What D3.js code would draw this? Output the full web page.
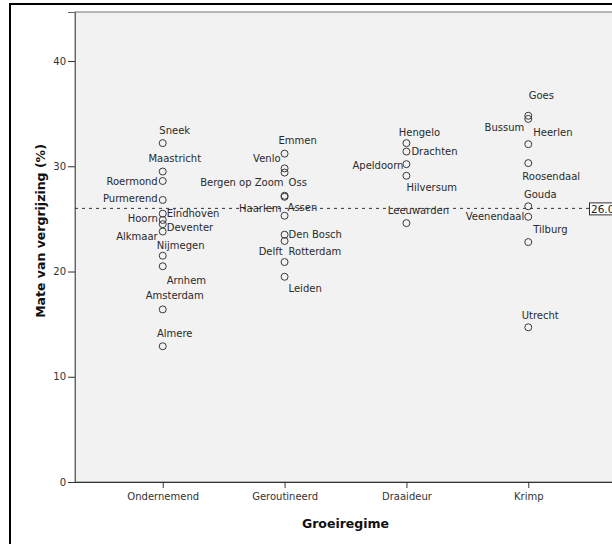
<!DOCTYPE html>
<html>
<head>
<meta charset="utf-8">
<script src="https://cdn.jsdelivr.net/npm/d3@7"></script>
<style>
  body { margin: 0; background: #fff; }
  text { font-family: 'DejaVu Sans', sans-serif; }
</style>
</head>
<body>
<div class="container"></div>
<script>
const categories = ['Ondernemend', 'Geroutineerd', 'Draaideur', 'Krimp'];

const ondernemendCities = ['Sneek', 'Maastricht', 'Roermond', 'Purmerend', 'Eindhoven', 'Hoorn', 'Deventer', 'Alkmaar', 'Nijmegen', 'Arnhem', 'Amsterdam', 'Almere'];
const ondernemendValues = [32.2, 29.5, 28.6, 26.8, 25.5, 24.9, 24.5, 23.8, 21.5, 20.5, 16.4, 12.9];

const geroutineerdCities = ['Emmen', 'Venlo', 'Bergen op Zoom', 'Oss', 'Haarlem', 'Assen', 'Den Bosch', 'Delft', 'Rotterdam', 'Leiden'];
const geroutineerdValues = [31.2, 29.8, 29.4, 27.2, 27.1, 25.3, 23.5, 22.9, 20.9, 19.5];

const draaideurCities = ['Hengelo', 'Drachten', 'Apeldoorn', 'Hilversum', 'Leeuwarden'];
const draaideurValues = [32.2, 31.4, 30.2, 29.1, 24.6];

const krimpCities = ['Goes', 'Bussum', 'Heerlen', 'Roosendaal', 'Gouda', 'Veenendaal', 'Tilburg', 'Utrecht'];
const krimpValues = [34.8, 34.5, 32.1, 30.3, 26.2, 25.2, 22.8, 14.7];

const yTicks = [0, 10, 20, 30, 40];
const meanValue = 26.0;

// label placement: [anchor, dx, dy] relative to the point
const labelPlacement = {
  Sneek: ['middle', 12, -13],
  Maastricht: ['middle', 12, -13],
  Roermond: ['end', -5, 0],
  Purmerend: ['end', -5, -1],
  Eindhoven: ['start', 4, 0],
  Hoorn: ['end', -5, -1],
  Deventer: ['start', 4, 3],
  Alkmaar: ['end', -5, 5],
  Nijmegen: ['start', -6, -10],
  Arnhem: ['start', 4, 14],
  Amsterdam: ['middle', 12, -14],
  Almere: ['middle', 12, -13],
  Emmen: ['middle', 13, -13],
  Venlo: ['end', -4, -10],
  'Bergen op Zoom': ['end', -1, 10],
  Oss: ['start', 4, -13],
  Haarlem: ['end', -3, 12],
  Assen: ['start', 3, -8],
  'Den Bosch': ['start', 4, 0],
  Delft: ['end', -2, 10],
  Rotterdam: ['start', 4, -11],
  Leiden: ['start', 4, 12],
  Hengelo: ['middle', 13, -11],
  Drachten: ['start', 5, 0],
  Apeldoorn: ['end', -3, 1],
  Hilversum: ['start', 0, 12],
  Leeuwarden: ['middle', 12, -13],
  Goes: ['middle', 13, -20],
  Bussum: ['end', -4, 9],
  Heerlen: ['start', 5, -12],
  Roosendaal: ['start', -6, 13],
  Gouda: ['middle', 12, -12],
  Veenendaal: ['end', -4, 0],
  Tilburg: ['start', 5, -13],
  Utrecht: ['middle', 12, -12]
};

const width = 612;
const height = 544;
const plot = { left: 75, top: 12, right: 616, bottom: 482 };

const data = [
  ...ondernemendCities.map((c, i) => ({ city: c, group: categories[0], value: ondernemendValues[i] })),
  ...geroutineerdCities.map((c, i) => ({ city: c, group: categories[1], value: geroutineerdValues[i] })),
  ...draaideurCities.map((c, i) => ({ city: c, group: categories[2], value: draaideurValues[i] })),
  ...krimpCities.map((c, i) => ({ city: c, group: categories[3], value: krimpValues[i] }))
];

const svg = d3
  .select('.container')
  .append('svg')
  .attr('width', width)
  .attr('height', height);

// outer frame
svg
  .append('rect')
  .attr('x', 10)
  .attr('y', 4)
  .attr('width', 700)
  .attr('height', 700)
  .attr('fill', '#fff')
  .attr('stroke', '#000')
  .attr('stroke-width', 2);

const x = d3
  .scalePoint()
  .domain(categories)
  .range([plot.left, plot.right])
  .padding(0.72);

const y = d3
  .scaleLinear()
  .domain([0, 44.66])
  .range([plot.bottom, plot.top]);

// plot background
svg
  .append('rect')
  .attr('x', plot.left)
  .attr('y', plot.top)
  .attr('width', plot.right - plot.left + 20)
  .attr('height', plot.bottom - plot.top)
  .attr('fill', '#f2f2f2')
  .attr('stroke', '#8a8a8a')
  .attr('stroke-width', 1.2);

// y axis
const yAxis = svg
  .append('g')
  .attr('class', 'y-axis')
  .attr('transform', `translate(${plot.left}, 0)`)
  .call(d3.axisLeft(y).tickValues(yTicks).tickSize(7).tickPadding(2).tickFormat(d3.format('d')));

yAxis.select('.domain').attr('stroke', '#666');
yAxis.selectAll('.tick line').attr('stroke', '#333');
yAxis
  .selectAll('.tick text')
  .attr('fill', '#333')
  .style('font-size', '10px')
  .style('font-family', 'DejaVu Sans');

// x axis
const xAxis = svg
  .append('g')
  .attr('class', 'x-axis')
  .attr('transform', `translate(0, ${plot.bottom})`)
  .call(d3.axisBottom(x).tickSize(6).tickPadding(5).tickSizeOuter(0));

xAxis.select('.domain').attr('stroke', '#333').attr('d', `M${plot.left},0.5H${width + 10}`);
xAxis.selectAll('.tick line').attr('stroke', '#333');
xAxis
  .selectAll('.tick text')
  .attr('fill', '#333')
  .style('font-size', '10px')
  .style('font-family', 'DejaVu Sans');

// axis titles
svg
  .append('text')
  .attr('transform', `translate(40, 231) rotate(-90)`)
  .attr('text-anchor', 'middle')
  .attr('dominant-baseline', 'central')
  .style('font-size', '12.5px')
  .style('font-weight', 'bold')
  .attr('fill', '#111')
  .text('Mate van vergrijzing (%)');

svg
  .append('text')
  .attr('x', (plot.left + plot.right) / 2)
  .attr('y', 523)
  .attr('text-anchor', 'middle')
  .attr('dominant-baseline', 'central')
  .style('font-size', '12.5px')
  .style('font-weight', 'bold')
  .attr('fill', '#111')
  .text('Groeiregime');

// mean reference line
svg
  .append('line')
  .attr('x1', plot.left)
  .attr('x2', 589)
  .attr('y1', y(meanValue))
  .attr('y2', y(meanValue))
  .attr('stroke', '#333')
  .attr('stroke-width', 1)
  .attr('stroke-dasharray', '3,4');

svg
  .append('rect')
  .attr('x', 589.5)
  .attr('y', y(meanValue) - 5.5)
  .attr('width', 40)
  .attr('height', 12)
  .attr('fill', '#fff')
  .attr('stroke', '#333')
  .attr('stroke-width', 1);

svg
  .append('text')
  .attr('x', 591)
  .attr('y', y(meanValue) + 0.5)
  .attr('dominant-baseline', 'central')
  .style('font-size', '10.5px')
  .attr('fill', '#222')
  .text(meanValue.toFixed(1));

// points
const points = svg
  .append('g')
  .attr('class', 'points')
  .selectAll('g')
  .data(data)
  .enter()
  .append('g');

points
  .append('circle')
  .attr('cx', d => x(d.group))
  .attr('cy', d => y(d.value))
  .attr('r', 3.5)
  .attr('fill', 'none')
  .attr('stroke', '#3a3a3a')
  .attr('stroke-width', 1);

points
  .append('text')
  .attr('x', d => x(d.group) + labelPlacement[d.city][1])
  .attr('y', d => y(d.value) + labelPlacement[d.city][2])
  .attr('text-anchor', d => labelPlacement[d.city][0])
  .attr('dominant-baseline', 'central')
  .style('font-size', '10px')
  .attr('fill', '#2a2a2a')
  .text(d => d.city);
</script>
</body>
</html>
